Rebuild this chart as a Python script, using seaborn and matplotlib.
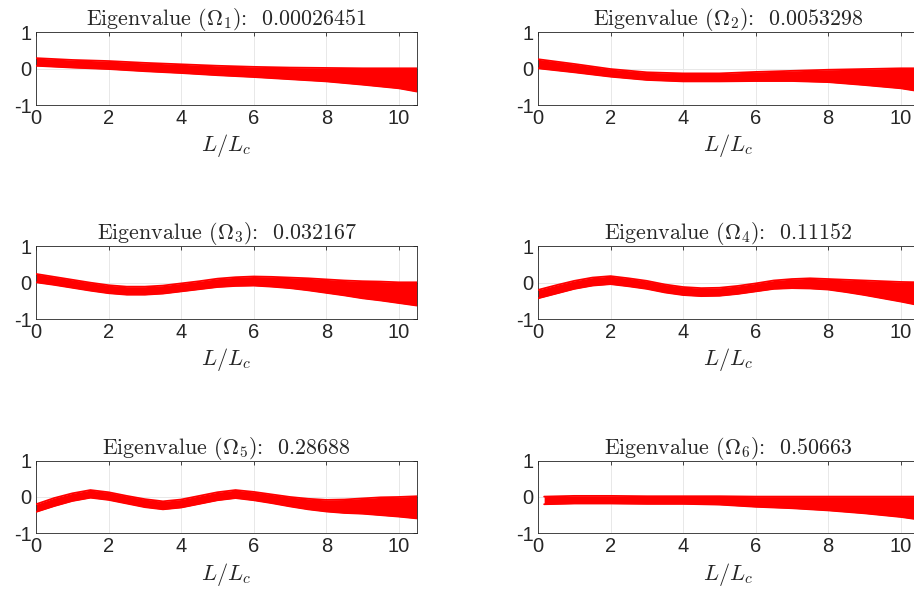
import numpy as np
import pandas as pd
import matplotlib
matplotlib.use('Agg')
import matplotlib.pyplot as plt
import seaborn as sns

# eigenvalues shown in the titles
eigenvalues = ['0.00026451', '0.0053298', '0.032167', '0.11152', '0.28688', '0.50663']

# band edges (x in L/Lc)
x_coarse = [0, 1, 2, 3, 4, 5, 6, 7, 8, 9, 10, 10.5]
x_fine = [0, 0.5, 1, 1.5, 2, 2.5, 3, 3.5, 4, 4.5, 5, 5.5, 6, 6.5, 7, 7.5,
          8, 8.5, 9, 9.5, 10, 10.5]
x_mode6 = [0.17, 1, 2, 3, 4, 5, 6, 7, 8, 9, 10, 10.5]

hi1 = [0.29, 0.24, 0.21, 0.16, 0.12, 0.08, 0.05, 0.03, 0.02, 0.01, 0.01, 0.01]
lo1 = [0.08, 0.03, -0.01, -0.07, -0.12, -0.18, -0.23, -0.29, -0.35, -0.44, -0.54, -0.63]

hi2 = [0.26, 0.13, -0.01, -0.10, -0.13, -0.13, -0.09, -0.06, -0.03, -0.01, 0.01, 0.01]
lo2 = [0.01, -0.10, -0.22, -0.31, -0.35, -0.35, -0.34, -0.34, -0.37, -0.45, -0.54, -0.62]

hi3 = [0.24, 0.16, 0.08, 0.00, -0.07, -0.11, -0.11, -0.08, -0.02, 0.04, 0.11,
       0.15, 0.17, 0.16, 0.14, 0.12, 0.09, 0.06, 0.04, 0.03, 0.01, 0.01]
lo3 = [0.01, -0.06, -0.14, -0.22, -0.29, -0.33, -0.33, -0.30, -0.24, -0.18, -0.12,
       -0.09, -0.08, -0.11, -0.15, -0.21, -0.28, -0.35, -0.43, -0.49, -0.56, -0.63]

hi4 = [-0.20, -0.07, 0.05, 0.14, 0.18, 0.12, 0.05, -0.05, -0.12, -0.15, -0.14,
       -0.09, -0.02, 0.06, 0.10, 0.12, 0.10, 0.08, 0.06, 0.04, 0.02, 0.01]
lo4 = [-0.43, -0.30, -0.17, -0.08, -0.04, -0.10, -0.17, -0.27, -0.34, -0.37, -0.36,
       -0.31, -0.24, -0.17, -0.15, -0.16, -0.19, -0.26, -0.34, -0.43, -0.52, -0.62]

hi5 = [-0.20, -0.03, 0.10, 0.19, 0.13, 0.03, -0.06, -0.12, -0.07, 0.03, 0.13,
       0.19, 0.14, 0.07, 0.00, -0.05, -0.08, -0.07, -0.04, -0.01, 0.00, 0.02]
lo5 = [-0.41, -0.25, -0.11, -0.02, -0.08, -0.18, -0.28, -0.34, -0.29, -0.19, -0.09,
       -0.03, -0.09, -0.17, -0.26, -0.34, -0.40, -0.44, -0.46, -0.50, -0.54, -0.59]

hi6 = [0.01, 0.03, 0.03, 0.02, 0.02, 0.02, 0.01, 0.01, 0.01, 0.01, 0.01, 0.01]
lo6 = [-0.20, -0.18, -0.18, -0.19, -0.19, -0.21, -0.27, -0.31, -0.37, -0.45, -0.55, -0.62]

modes = [
    (x_coarse, lo1, hi1),
    (x_coarse, lo2, hi2),
    (x_fine, lo3, hi3),
    (x_fine, lo4, hi4),
    (x_fine, lo5, hi5),
    (x_mode6, lo6, hi6),
]

sns.set_theme(style='white')
plt.rcParams['font.family'] = ['Liberation Sans', 'DejaVu Sans']
plt.rcParams['mathtext.fontset'] = 'cm'
plt.rcParams['axes.unicode_minus'] = False

fig = plt.figure(figsize=(9.14, 5.91), dpi=100)

lefts = [0.0394, 0.5886]
bottoms = [0.8223, 0.4602, 0.0976]
w, h = 0.4168, 0.123

for i, (xs, lo, hi) in enumerate(modes):
    r, c = divmod(i, 2)
    ax = fig.add_axes([lefts[c], bottoms[r], w, h])
    df = pd.DataFrame({'x': xs + xs, 'y': lo + hi,
                       'edge': ['lo'] * len(xs) + ['hi'] * len(xs)})
    ax.fill_between(xs, lo, hi, color='#ff0000', lw=0, zorder=2)
    sns.lineplot(data=df, x='x', y='y', units='edge', estimator=None,
                 color='#ff0000', lw=1.3, ax=ax, legend=False, zorder=3)
    ax.set_xlim(0, 10.5)
    ax.set_ylim(-1, 1)
    ax.set_xticks([0, 2, 4, 6, 8, 10])
    ax.set_yticks([-1, 0, 1])
    ax.set_yticklabels(['-1', '0', '1'])
    ax.grid(True, color='#e8e8e8', lw=0.7, zorder=0)
    ax.set_axisbelow(True)
    for s in ax.spines.values():
        s.set_color('#262626')
        s.set_linewidth(0.6)
    ax.tick_params(direction='in', length=3, width=0.6, color='#262626',
                   labelsize=14.5, labelcolor='#262626', pad=3,
                   top=True, right=True)
    ax.set_ylabel('')
    ax.set_xlabel(r'$L/L_c$', fontsize=16, labelpad=3)
    ax.set_title(r'Eigenvalue ($\Omega_%d$):  %s' % (i + 1, eigenvalues[i]),
                 fontsize=15.8, pad=5, family='cmr10')

fig.savefig('out.png', dpi=100)
